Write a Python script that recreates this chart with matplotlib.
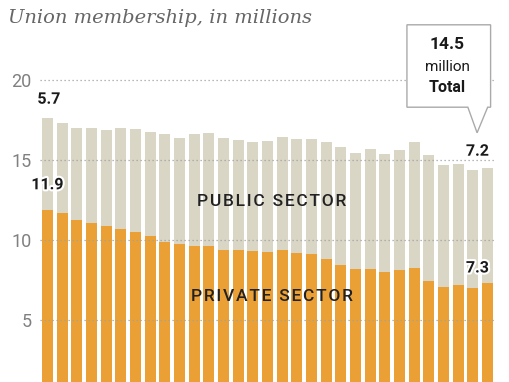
import numpy as np
import matplotlib.pyplot as plt
import matplotlib.patheffects as pe
from matplotlib.patches import Polygon

# Union membership, millions
years = list(range(1983, 2014))
private = [11.9, 11.7, 11.25, 11.05, 10.85, 10.7, 10.5, 10.25, 9.9, 9.75,
           9.6, 9.65, 9.4, 9.4, 9.3, 9.27, 9.38, 9.2, 9.13, 8.8,
           8.45, 8.2, 8.2, 7.98, 8.1, 8.25, 7.42, 7.08, 7.2, 7.02, 7.3]
public = [5.7, 5.6, 5.75, 5.95, 6.05, 6.3, 6.45, 6.5, 6.7, 6.65,
          7.0, 7.05, 6.95, 6.85, 6.8, 6.93, 7.07, 7.1, 7.17, 7.3,
          7.35, 7.25, 7.5, 7.42, 7.55, 7.85, 7.88, 7.62, 7.55, 7.33, 7.2]
yticks = [5, 10, 15, 20]

orange = '#EBA036'
beige = '#D9D6C5'
grey = '#808080'

priv = np.array(private)
pub = np.array(public)
total = priv + pub
x = np.arange(len(years))

fig = plt.figure(figsize=(5.1, 3.82), dpi=100)
ax = fig.add_axes([40 / 510, 0, 455 / 510, 1])

ax.bar(x, priv, width=0.75, color=orange, zorder=2)
ax.bar(x, pub, bottom=priv, width=0.75, color=beige, zorder=2)

# dotted gridlines drawn on top of the bars
for t in yticks:
    ax.axhline(t, color='#a0a0a0', lw=0.9, ls=(0, (1, 2.2)), zorder=3)

ax.set_xlim(-0.5, 30.5)
ax.set_ylim(1.125, 25)
ax.set_yticks(yticks)
ax.set_xticks([])
ax.tick_params(axis='y', length=0, pad=6, labelsize=13, labelcolor=grey)
for lbl in ax.get_yticklabels():
    lbl.set_family('Roboto')
for s in ax.spines.values():
    s.set_visible(False)

stroke = [pe.withStroke(linewidth=3, foreground='white')]
bold = dict(family='Roboto', weight='bold', fontsize=11.5, color='#1a1a1a',
            ha='center', va='center', zorder=5, path_effects=stroke)
ax.text(x[0] + 0.1, total[0] + 1.2, f'{pub[0]:.1f}', **bold)
ax.text(x[0], priv[0] + 1.55, f'{priv[0]:.1f}', **bold)
ax.text(x[-1] - 0.7, total[-1] + 1.05, f'{pub[-1]:.1f}', **bold)
ax.text(x[-1] - 0.7, priv[-1] + 0.95, f'{priv[-1]:.1f}', **bold)

# letter-spaced sector labels
sect = dict(family=['Roboto', 'DejaVu Sans'], weight='medium', fontsize=12.5,
            color='#222222', ha='center', va='center', zorder=5)
ax.text(15.3, 12.4, '\u200a'.join('PUBLIC SECTOR'), **sect)
ax.text(15.3, 6.45, '\u200a'.join('PRIVATE SECTOR'), **sect)

# callout box for the total
bx0, bx1, by0, by1 = x[-1] - 5.5, x[-1] + 0.2, total[-1] + 3.8, total[-1] + 8.95
tipx, tipy = x[-1] - 0.72, total[-1] + 2.2
box = Polygon([(bx0, by0), (bx0, by1), (bx1, by1), (bx1, by0),
               (x[-1] + 0.0, by0), (tipx, tipy), (x[-1] - 1.35, by0)],
              closed=True, facecolor='white', edgecolor='#aaaaaa', lw=1,
              zorder=6, clip_on=False)
ax.add_patch(box)
cx = (bx0 + bx1) / 2 - 0.1
ax.text(cx, total[-1] + 7.7, f'{total[-1]:.1f}', family='Roboto', weight='bold',
        fontsize=12.5, color='#1a1a1a', ha='center', va='center', zorder=7)
ax.text(cx, total[-1] + 6.3, 'million', family='Roboto', fontsize=11,
        color='#1a1a1a', ha='center', va='center', zorder=7)
ax.text(cx, total[-1] + 5.05, 'Total', family='Roboto', weight='bold',
        fontsize=11.5, color='#1a1a1a', ha='center', va='center', zorder=7)

fig.text(8 / 510, 1 - 18 / 382, 'Union membership, in millions',
         family='DejaVu Serif', style='italic', fontsize=14,
         color='#666666', ha='left', va='center')

fig.savefig('out.png', dpi=100)
